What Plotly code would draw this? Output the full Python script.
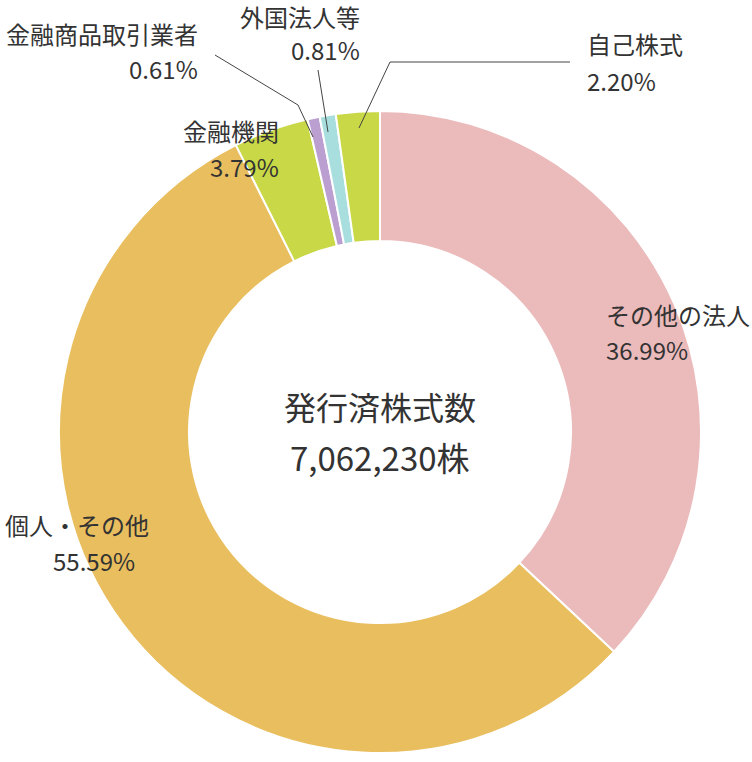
import plotly.graph_objects as go

W, H = 752, 762

categories = ["その他の法人", "個人・その他", "金融機関", "金融商品取引業者", "外国法人等", "自己株式"]
values = [36.99, 55.59, 3.79, 0.61, 0.81, 2.20]
pct_labels = ["36.99%", "55.59%", "3.79%", "0.61%", "0.81%", "2.20%"]
colors = ["#EBBABB", "#E9BE5E", "#C8D846", "#BC9FD1", "#A9DEDE", "#C8D846"]
center_title = "発行済株式数"
center_value = "7,062,230株"

cx, cy, R = 380, 432, 321

fig = go.Figure(go.Pie(
    labels=categories, values=values, sort=False, direction="clockwise", rotation=0,
    hole=0.595, textinfo="none", hoverinfo="label+percent",
    marker=dict(colors=colors, line=dict(color="white", width=2)),
    domain=dict(x=[(cx - R) / W, (cx + R) / W], y=[(H - cy - R) / H, (H - cy + R) / H]),
    showlegend=False,
))

def px(x):
    return x / W

def py(y):
    return 1 - y / H

FONT = "Noto Sans CJK JP"
TXT = "#333333"

placements = {
    "その他の法人": (604, 314, "left", 604, 349, "left"),
    "個人・その他": (3, 524, "left", 137, 560, "right"),
    "金融機関": (281, 130, "right", 281, 166, "right"),
    "金融商品取引業者": (200, 33, "right", 200, 68, "right"),
    "外国法人等": (362, 16, "right", 362, 50, "right"),
    "自己株式": (585, 44, "left", 585, 80, "left"),
}

annotations = []
for cat, pct in zip(categories, pct_labels):
    nx, ny, na, qx, qy, qa = placements[cat]
    annotations.append(dict(x=px(nx), y=py(ny), xref="paper", yref="paper", text=cat,
                            showarrow=False, xanchor=na, yanchor="middle",
                            font=dict(family=FONT, size=24, color=TXT)))
    annotations.append(dict(x=px(qx), y=py(qy), xref="paper", yref="paper", text=pct,
                            showarrow=False, xanchor=qa, yanchor="middle",
                            font=dict(family=FONT, size=24, color=TXT)))

annotations.append(dict(x=px(380), y=py(406), xref="paper", yref="paper", text=center_title,
                        showarrow=False, xanchor="center", yanchor="middle",
                        font=dict(family=FONT, size=32, color=TXT)))
annotations.append(dict(x=px(380), y=py(457), xref="paper", yref="paper", text=center_value,
                        showarrow=False, xanchor="center", yanchor="middle",
                        font=dict(family=FONT, size=33, color=TXT)))

lines = [
    [(215, 55), (298, 105), (313, 137)],
    [(318, 70), (328, 132)],
    [(570, 62), (390, 62), (359, 128)],
]
shapes = []
for pts in lines:
    path = "M " + " L ".join(f"{px(x)},{py(y)}" for x, y in pts)
    shapes.append(dict(type="path", path=path, xref="paper", yref="paper",
                       line=dict(color="#444444", width=1)))

fig.update_layout(
    width=W, height=H, margin=dict(l=0, r=0, t=0, b=0),
    paper_bgcolor="white", plot_bgcolor="white",
    annotations=annotations, shapes=shapes,
)

fig.write_html("out.html", config={"displayModeBar": False},
               post_script="document.body.style.margin='0';document.body.style.padding='0';")
